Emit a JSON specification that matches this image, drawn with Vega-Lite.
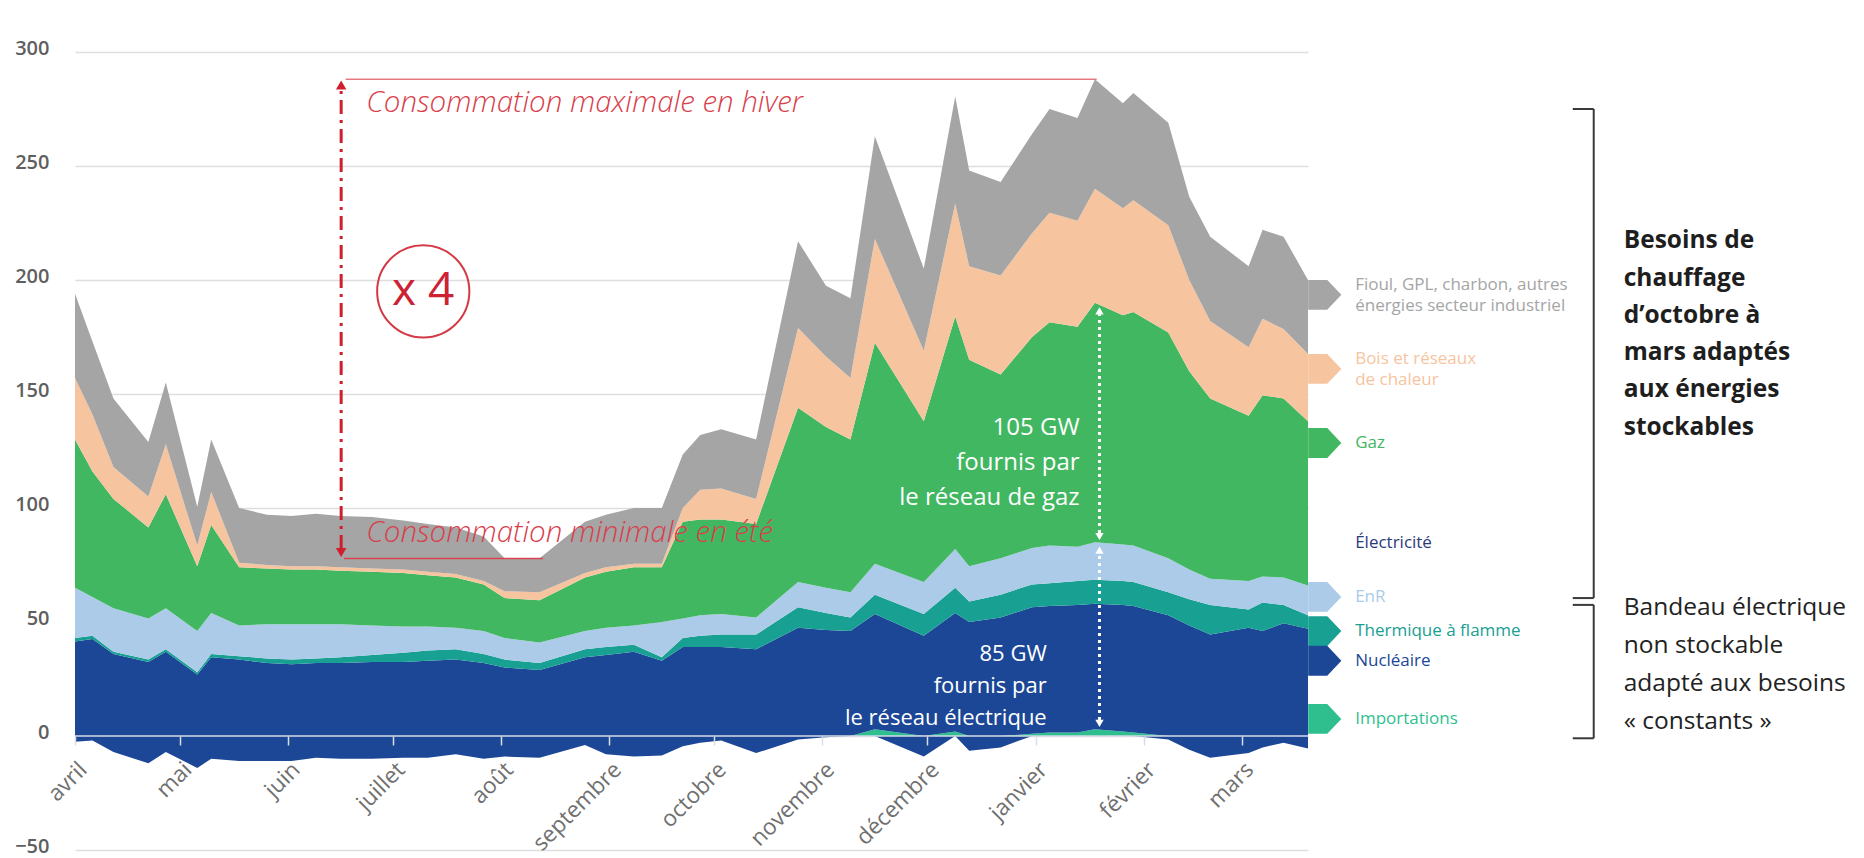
{
  "$schema": "https://vega.github.io/schema/vega-lite/v6.json",
  "width": 1233,
  "height": 798,
  "autosize": {"type": "none"},
  "padding": {"left": 75, "top": 52, "right": 556, "bottom": 8},
  "background": "#ffffff",
  "config": {"view": {"stroke": null}, "font": "Open Sans"},
  "datasets": {
    "semaines": [
      {"jour": 0, "Exportations": -2.5, "Importations": 0, "Nucleaire": 41.5, "Thermique": 1.5, "EnR": 22, "Gaz": 65, "Bois": 27, "Fioul": 37},
      {"jour": 5, "Exportations": -2, "Importations": 0, "Nucleaire": 42.5, "Thermique": 1.5, "EnR": 17, "Gaz": 55, "Bois": 25, "Fioul": 32},
      {"jour": 11, "Exportations": -7, "Importations": 0, "Nucleaire": 36, "Thermique": 1, "EnR": 19, "Gaz": 48, "Bois": 14, "Fioul": 30},
      {"jour": 21, "Exportations": -12, "Importations": 0, "Nucleaire": 32.5, "Thermique": 1, "EnR": 18, "Gaz": 40, "Bois": 13.5, "Fioul": 24},
      {"jour": 26, "Exportations": -7, "Importations": 0, "Nucleaire": 37, "Thermique": 1, "EnR": 18, "Gaz": 50, "Bois": 22, "Fioul": 27},
      {"jour": 35, "Exportations": -14, "Importations": 0, "Nucleaire": 27, "Thermique": 1, "EnR": 18, "Gaz": 28.5, "Bois": 9, "Fioul": 17},
      {"jour": 39, "Exportations": -10, "Importations": 0, "Nucleaire": 34.5, "Thermique": 1.5, "EnR": 18, "Gaz": 38.5, "Bois": 14.5, "Fioul": 23},
      {"jour": 47, "Exportations": -11, "Importations": 0, "Nucleaire": 33.5, "Thermique": 1.5, "EnR": 13.5, "Gaz": 25.5, "Bois": 2, "Fioul": 24},
      {"jour": 55, "Exportations": -11, "Importations": 0, "Nucleaire": 32, "Thermique": 2, "EnR": 15, "Gaz": 24.5, "Bois": 1.5, "Fioul": 22},
      {"jour": 62, "Exportations": -11, "Importations": 0, "Nucleaire": 31.5, "Thermique": 2, "EnR": 15.5, "Gaz": 24, "Bois": 1.5, "Fioul": 22},
      {"jour": 69, "Exportations": -9.5, "Importations": 0, "Nucleaire": 32, "Thermique": 2, "EnR": 15, "Gaz": 24, "Bois": 1.5, "Fioul": 23},
      {"jour": 76, "Exportations": -10, "Importations": 0, "Nucleaire": 32, "Thermique": 2.5, "EnR": 14.5, "Gaz": 23.5, "Bois": 1.5, "Fioul": 22.5},
      {"jour": 85, "Exportations": -10, "Importations": 0, "Nucleaire": 32.5, "Thermique": 3, "EnR": 13, "Gaz": 23.5, "Bois": 1.5, "Fioul": 22.5},
      {"jour": 94, "Exportations": -9.5, "Importations": 0, "Nucleaire": 32.5, "Thermique": 4, "EnR": 11.5, "Gaz": 23.5, "Bois": 1.5, "Fioul": 21.5},
      {"jour": 101, "Exportations": -9.5, "Importations": 0, "Nucleaire": 33, "Thermique": 4.5, "EnR": 10.5, "Gaz": 22.5, "Bois": 1.5, "Fioul": 21},
      {"jour": 109, "Exportations": -8, "Importations": 0, "Nucleaire": 33.5, "Thermique": 4.5, "EnR": 9.5, "Gaz": 22, "Bois": 1.5, "Fioul": 20.5},
      {"jour": 117, "Exportations": -10, "Importations": 0, "Nucleaire": 32, "Thermique": 4, "EnR": 10, "Gaz": 20.5, "Bois": 1.5, "Fioul": 19.5},
      {"jour": 123, "Exportations": -9, "Importations": 0, "Nucleaire": 30, "Thermique": 3.5, "EnR": 9.5, "Gaz": 17.5, "Bois": 3, "Fioul": 14.5},
      {"jour": 133, "Exportations": -9.5, "Importations": 0, "Nucleaire": 29, "Thermique": 3, "EnR": 9, "Gaz": 18.5, "Bois": 3.5, "Fioul": 15},
      {"jour": 146, "Exportations": -4, "Importations": 0, "Nucleaire": 34.5, "Thermique": 3.5, "EnR": 8, "Gaz": 23.5, "Bois": 2, "Fioul": 22.5},
      {"jour": 152, "Exportations": -8, "Importations": 0, "Nucleaire": 35.5, "Thermique": 3.5, "EnR": 8.5, "Gaz": 24.5, "Bois": 2, "Fioul": 23},
      {"jour": 160, "Exportations": -9, "Importations": 0, "Nucleaire": 37, "Thermique": 3, "EnR": 8.5, "Gaz": 25.5, "Bois": 1.5, "Fioul": 24.5},
      {"jour": 168, "Exportations": -8.5, "Importations": 0, "Nucleaire": 33, "Thermique": 1.5, "EnR": 15.5, "Gaz": 24, "Bois": 1.5, "Fioul": 24.5},
      {"jour": 174, "Exportations": -4.5, "Importations": 0, "Nucleaire": 39, "Thermique": 4, "EnR": 8.5, "Gaz": 42.5, "Bois": 6, "Fioul": 23.5},
      {"jour": 179, "Exportations": -3, "Importations": 0, "Nucleaire": 39, "Thermique": 5, "EnR": 9, "Gaz": 42, "Bois": 13, "Fioul": 24},
      {"jour": 185, "Exportations": -2, "Importations": 0, "Nucleaire": 39, "Thermique": 5.5, "EnR": 9, "Gaz": 41.5, "Bois": 13.5, "Fioul": 26},
      {"jour": 195, "Exportations": -7.5, "Importations": 0, "Nucleaire": 38, "Thermique": 6.5, "EnR": 7.5, "Gaz": 41, "Bois": 11, "Fioul": 26},
      {"jour": 207, "Exportations": -1.5, "Importations": 0, "Nucleaire": 47.5, "Thermique": 9, "EnR": 11, "Gaz": 76.5, "Bois": 35, "Fioul": 38},
      {"jour": 215, "Exportations": -0.5, "Importations": 0, "Nucleaire": 46.5, "Thermique": 7.5, "EnR": 11, "Gaz": 70.5, "Bois": 31, "Fioul": 31},
      {"jour": 222, "Exportations": 0, "Importations": 0, "Nucleaire": 46, "Thermique": 6, "EnR": 11, "Gaz": 67, "Bois": 27, "Fioul": 35},
      {"jour": 229, "Exportations": 0, "Importations": 3, "Nucleaire": 50.5, "Thermique": 8.5, "EnR": 13.5, "Gaz": 97, "Bois": 45.5, "Fioul": 45},
      {"jour": 243, "Exportations": -9, "Importations": 0, "Nucleaire": 44, "Thermique": 9.5, "EnR": 14, "Gaz": 70.5, "Bois": 31, "Fioul": 36},
      {"jour": 252, "Exportations": 0, "Importations": 2, "Nucleaire": 52, "Thermique": 11, "EnR": 17, "Gaz": 102, "Bois": 49.5, "Fioul": 47},
      {"jour": 256, "Exportations": -6.5, "Importations": 0, "Nucleaire": 50, "Thermique": 9, "EnR": 15.5, "Gaz": 90.5, "Bois": 41, "Fioul": 42},
      {"jour": 265, "Exportations": -5, "Importations": 0, "Nucleaire": 52, "Thermique": 10, "EnR": 16, "Gaz": 80.5, "Bois": 43.5, "Fioul": 41},
      {"jour": 274, "Exportations": 0, "Importations": 1, "Nucleaire": 55.5, "Thermique": 10, "EnR": 16, "Gaz": 92.5, "Bois": 45.5, "Fioul": 43.5},
      {"jour": 279, "Exportations": 0, "Importations": 1.5, "Nucleaire": 55.5, "Thermique": 10, "EnR": 16.5, "Gaz": 98, "Bois": 48, "Fioul": 45.5},
      {"jour": 287, "Exportations": 0, "Importations": 1.5, "Nucleaire": 56, "Thermique": 10.5, "EnR": 15, "Gaz": 96.5, "Bois": 46.5, "Fioul": 45},
      {"jour": 292, "Exportations": 0, "Importations": 3, "Nucleaire": 55, "Thermique": 10.5, "EnR": 16.5, "Gaz": 105, "Bois": 50, "Fioul": 48},
      {"jour": 300, "Exportations": 0, "Importations": 2, "Nucleaire": 55.5, "Thermique": 10.5, "EnR": 16, "Gaz": 100.5, "Bois": 47, "Fioul": 46},
      {"jour": 303, "Exportations": 0, "Importations": 1.5, "Nucleaire": 55.5, "Thermique": 10.5, "EnR": 16, "Gaz": 102.5, "Bois": 49, "Fioul": 47},
      {"jour": 313, "Exportations": -1.5, "Importations": 0, "Nucleaire": 53, "Thermique": 10, "EnR": 15, "Gaz": 99, "Bois": 47, "Fioul": 45},
      {"jour": 319, "Exportations": -6, "Importations": 0, "Nucleaire": 48.5, "Thermique": 11.5, "EnR": 13, "Gaz": 87, "Bois": 40, "Fioul": 36.5},
      {"jour": 325, "Exportations": -9.5, "Importations": 0, "Nucleaire": 44.5, "Thermique": 13, "EnR": 11.5, "Gaz": 79, "Bois": 34, "Fioul": 37},
      {"jour": 336, "Exportations": -7.5, "Importations": 0, "Nucleaire": 47.5, "Thermique": 8, "EnR": 12.5, "Gaz": 72.5, "Bois": 30, "Fioul": 35.5},
      {"jour": 340, "Exportations": -5, "Importations": 0, "Nucleaire": 46, "Thermique": 12.5, "EnR": 11.5, "Gaz": 79.5, "Bois": 33.5, "Fioul": 39},
      {"jour": 346, "Exportations": -3, "Importations": 0, "Nucleaire": 49.5, "Thermique": 8, "EnR": 12, "Gaz": 78.5, "Bois": 30.5, "Fioul": 40.5},
      {"jour": 353, "Exportations": -5.5, "Importations": 0, "Nucleaire": 47, "Thermique": 6, "EnR": 13, "Gaz": 72, "Bois": 29.5, "Fioul": 32.5}
    ],
    "rangs": [
      {"serie": "Exportations", "rang": 0},
      {"serie": "Importations", "rang": 1},
      {"serie": "Nucleaire", "rang": 2},
      {"serie": "Thermique", "rang": 3},
      {"serie": "EnR", "rang": 4},
      {"serie": "Gaz", "rang": 5},
      {"serie": "Bois", "rang": 6},
      {"serie": "Fioul", "rang": 7}
    ],
    "legende": [
      {"serie": "Fioul", "libelle": "Fioul, GPL, charbon, autres\nénergies secteur industriel", "lignes": 2, "niveau": 193.5},
      {"serie": "Bois", "libelle": "Bois et réseaux\nde chaleur", "lignes": 2, "niveau": 161},
      {"serie": "Gaz", "libelle": "Gaz", "lignes": 1, "niveau": 128.5},
      {"serie": "Electricite", "libelle": "Électricité", "lignes": 1, "niveau": 84.5},
      {"serie": "EnR", "libelle": "EnR", "lignes": 1, "niveau": 61},
      {"serie": "Thermique", "libelle": "Thermique à flamme", "lignes": 1, "niveau": 46},
      {"serie": "Nucleaire", "libelle": "Nucléaire", "lignes": 1, "niveau": 33},
      {"serie": "Importations", "libelle": "Importations", "lignes": 1, "niveau": 7.5}
    ]
  },
  "layer": [
    {
      "data": {"name": "semaines"},
      "transform": [
        {"fold": ["Exportations", "Importations", "Nucleaire", "Thermique", "EnR", "Gaz", "Bois", "Fioul"], "as": ["serie", "valeur"]},
        {"lookup": "serie", "from": {"data": {"name": "rangs"}, "key": "serie", "fields": ["rang"]}}
      ],
      "mark": {"type": "area", "interpolate": "linear"},
      "encoding": {
        "x": {
          "field": "jour", "type": "quantitative",
          "scale": {"domain": [0, 353], "nice": false, "zero": false},
          "axis": {
            "title": null, "orient": "bottom", "offset": -114,
            "values": [0, 30, 61, 91, 122, 153, 183, 214, 244, 275, 306, 334],
            "labelExpr": "['avril','mai','juin','juillet','août','septembre','octobre','novembre','décembre','janvier','février','mars'][indexof([0,30,61,91,122,153,183,214,244,275,306,334], datum.value)]",
            "domain": false, "grid": false, "ticks": true, "tickSize": 9, "tickColor": "#d8dde8", "tickWidth": 1.5,
            "labelAngle": -45, "labelAlign": "right", "labelBaseline": "top", "labelPadding": 13, "labelOffset": 0,
            "labelFontSize": 22.5, "labelColor": "#707070", "labelFont": "Open Sans",
            "labelOverlap": false, "labelBound": false, "labelFlush": false, "zindex": 1
          }
        },
        "y": {
          "field": "valeur", "type": "quantitative", "stack": "zero",
          "scale": {"domain": [-50, 300], "nice": false, "zero": false},
          "axis": {
            "title": null, "values": [-50, 0, 50, 100, 150, 200, 250, 300],
            "domain": false, "ticks": false, "tickSize": 0, "labelPadding": 26, "labelOffset": -4,
            "labelFontSize": 20, "labelColor": "#5f5f5f", "labelFontWeight": 600, "labelFont": "Open Sans",
            "grid": true, "gridColor": "#dedede", "gridWidth": 1.5
          }
        },
        "color": {
          "field": "serie", "type": "nominal", "legend": null,
          "scale": {
            "domain": ["Exportations", "Importations", "Nucleaire", "Thermique", "EnR", "Gaz", "Bois", "Fioul", "Electricite"],
            "range": ["#1c4796", "#2fbf8f", "#1c4796", "#18a092", "#abcbe8", "#41b761", "#f7c4a0", "#a5a5a5", "#2b3b7a"]
          }
        },
        "order": {"field": "rang", "type": "quantitative"}
      }
    },
    {
      "data": {"values": [{}]},
      "mark": {"type": "rule", "color": "#d5dbe6", "strokeWidth": 1.5},
      "encoding": {"y": {"datum": 0}}
    },
    {
      "data": {"values": [{}]},
      "mark": {"type": "rule", "color": "#e67a82", "strokeWidth": 1.5},
      "encoding": {"x": {"datum": 77.5}, "x2": {"datum": 292.5}, "y": {"datum": 288}}
    },
    {
      "data": {"values": [{}]},
      "mark": {"type": "rule", "color": "#d9434f", "strokeWidth": 1.5},
      "encoding": {"x": {"datum": 77}, "x2": {"datum": 134}, "y": {"datum": 77.8}}
    },
    {
      "data": {"values": [{}]},
      "mark": {"type": "rule", "color": "#cf1f2e", "strokeWidth": 3, "strokeDash": [14, 6, 3, 6]},
      "encoding": {"x": {"datum": 76.2}, "y": {"datum": 82}, "y2": {"datum": 284}}
    },
    {
      "data": {"values": [{}]},
      "mark": {"type": "point", "shape": "triangle-up", "filled": true, "size": 110, "color": "#cf1f2e", "opacity": 1},
      "encoding": {"x": {"datum": 76.2}, "y": {"datum": 285.5}}
    },
    {
      "data": {"values": [{}]},
      "mark": {"type": "point", "shape": "triangle-down", "filled": true, "size": 110, "color": "#cf1f2e", "opacity": 1},
      "encoding": {"x": {"datum": 76.2}, "y": {"datum": 80.5}}
    },
    {
      "data": {"values": [{}]},
      "mark": {"type": "text", "text": "Consommation maximale en hiver", "align": "left", "baseline": "middle", "fontSize": 29.5, "fontStyle": "italic", "fontWeight": 300, "color": "#d8404c", "font": "Open Sans"},
      "encoding": {"x": {"datum": 83.4}, "y": {"datum": 277.5}}
    },
    {
      "data": {"values": [{}]},
      "mark": {"type": "text", "text": "Consommation minimale en été", "align": "left", "baseline": "middle", "fontSize": 29.5, "fontStyle": "italic", "fontWeight": 300, "color": "#d8404c", "font": "Open Sans"},
      "encoding": {"x": {"datum": 83.4}, "y": {"datum": 89.2}}
    },
    {
      "data": {"values": [{}]},
      "mark": {"type": "point", "shape": "circle", "filled": false, "size": 8500, "stroke": "#d33a45", "strokeWidth": 2, "opacity": 1},
      "encoding": {"x": {"datum": 99.7}, "y": {"datum": 195}}
    },
    {
      "data": {"values": [{}]},
      "mark": {"type": "text", "text": "x 4", "align": "center", "baseline": "middle", "fontSize": 46, "color": "#cc2233", "font": "Open Sans"},
      "encoding": {"x": {"datum": 99.7}, "y": {"datum": 195}}
    },
    {
      "data": {"values": [{}]},
      "mark": {"type": "rule", "color": "#ffffff", "strokeWidth": 3, "strokeDash": [3, 4]},
      "encoding": {"x": {"datum": 293.3}, "y": {"datum": 89}, "y2": {"datum": 185}}
    },
    {
      "data": {"values": [{}]},
      "mark": {"type": "point", "shape": "triangle-up", "filled": true, "size": 70, "color": "#ffffff", "opacity": 1},
      "encoding": {"x": {"datum": 293.3}, "y": {"datum": 186.5}}
    },
    {
      "data": {"values": [{}]},
      "mark": {"type": "point", "shape": "triangle-down", "filled": true, "size": 70, "color": "#ffffff", "opacity": 1},
      "encoding": {"x": {"datum": 293.3}, "y": {"datum": 87.5}}
    },
    {
      "data": {"values": [{}]},
      "mark": {"type": "rule", "color": "#ffffff", "strokeWidth": 3, "strokeDash": [3, 4]},
      "encoding": {"x": {"datum": 293.3}, "y": {"datum": 7}, "y2": {"datum": 80}}
    },
    {
      "data": {"values": [{}]},
      "mark": {"type": "point", "shape": "triangle-up", "filled": true, "size": 70, "color": "#ffffff", "opacity": 1},
      "encoding": {"x": {"datum": 293.3}, "y": {"datum": 81.5}}
    },
    {
      "data": {"values": [{}]},
      "mark": {"type": "point", "shape": "triangle-down", "filled": true, "size": 70, "color": "#ffffff", "opacity": 1},
      "encoding": {"x": {"datum": 293.3}, "y": {"datum": 5.5}}
    },
    {
      "data": {"values": [{}]},
      "mark": {"type": "text", "text": ["105 GW", "fournis par", "le réseau de gaz"], "align": "right", "baseline": "middle", "fontSize": 24, "lineHeight": 35, "color": "#ffffff", "font": "Open Sans"},
      "encoding": {"x": {"datum": 287.6}, "y": {"datum": 135}}
    },
    {
      "data": {"values": [{}]},
      "mark": {"type": "text", "text": ["85 GW", "fournis par", "le réseau électrique"], "align": "right", "baseline": "middle", "fontSize": 22, "lineHeight": 32, "color": "#ffffff", "font": "Open Sans"},
      "encoding": {"x": {"datum": 278.2}, "y": {"datum": 36}}
    },
    {
      "data": {"name": "legende"},
      "transform": [{"filter": "datum.serie !== 'Electricite'"}],
      "mark": {"type": "point", "shape": "M-1,-0.9L0.15,-0.9L1,0L0.15,0.9L-1,0.9Z", "filled": true, "size": 1100, "opacity": 1, "strokeWidth": 0},
      "encoding": {"x": {"datum": 357.8}, "y": {"field": "niveau", "type": "quantitative"}, "color": {"field": "serie", "type": "nominal"}}
    },
    {
      "data": {"name": "legende"},
      "transform": [{"filter": "datum.lignes === 1"}],
      "mark": {"type": "text", "align": "left", "baseline": "middle", "fontSize": 17, "font": "Open Sans"},
      "encoding": {"x": {"datum": 366.5}, "y": {"field": "niveau", "type": "quantitative"}, "text": {"field": "libelle", "type": "nominal"}, "color": {"field": "serie", "type": "nominal"}}
    },
    {
      "data": {"name": "legende"},
      "transform": [{"filter": "datum.lignes === 2"}],
      "mark": {"type": "text", "align": "left", "baseline": "middle", "fontSize": 17, "lineHeight": 21, "lineBreak": "\n", "dy": -10, "font": "Open Sans"},
      "encoding": {"x": {"datum": 366.5}, "y": {"field": "niveau", "type": "quantitative"}, "text": {"field": "libelle", "type": "nominal"}, "color": {"field": "serie", "type": "nominal"}}
    },
    {
      "data": {"values": [{}]},
      "mark": {"type": "rule", "color": "#3a3a3a", "strokeWidth": 2},
      "encoding": {"x": {"datum": 434.8}, "y": {"datum": 275}, "y2": {"datum": 60.5}}
    },
    {
      "data": {"values": [{}]},
      "mark": {"type": "rule", "color": "#3a3a3a", "strokeWidth": 2},
      "encoding": {"x": {"datum": 428.8}, "x2": {"datum": 434.8}, "y": {"datum": 275}}
    },
    {
      "data": {"values": [{}]},
      "mark": {"type": "rule", "color": "#3a3a3a", "strokeWidth": 2},
      "encoding": {"x": {"datum": 428.8}, "x2": {"datum": 434.8}, "y": {"datum": 60.5}}
    },
    {
      "data": {"values": [{}]},
      "mark": {"type": "rule", "color": "#3a3a3a", "strokeWidth": 2},
      "encoding": {"x": {"datum": 428.8}, "x2": {"datum": 434.8}, "y": {"datum": 57.5}}
    },
    {
      "data": {"values": [{}]},
      "mark": {"type": "rule", "color": "#3a3a3a", "strokeWidth": 2},
      "encoding": {"x": {"datum": 434.8}, "y": {"datum": 57.5}, "y2": {"datum": -1}}
    },
    {
      "data": {"values": [{}]},
      "mark": {"type": "rule", "color": "#3a3a3a", "strokeWidth": 2},
      "encoding": {"x": {"datum": 428.8}, "x2": {"datum": 434.8}, "y": {"datum": -1}}
    },
    {
      "data": {"values": [{}]},
      "mark": {"type": "text", "text": ["Besoins de", "chauffage", "d’octobre à", "mars adaptés", "aux énergies", "stockables"], "align": "left", "baseline": "middle", "fontSize": 24.5, "fontWeight": "bold", "lineHeight": 37.3, "color": "#1e1e1e", "font": "Open Sans"},
      "encoding": {"x": {"datum": 443.4}, "y": {"datum": 217}}
    },
    {
      "data": {"values": [{}]},
      "mark": {"type": "text", "text": ["Bandeau électrique", "non stockable", "adapté aux besoins", "« constants »"], "align": "left", "baseline": "middle", "fontSize": 24.5, "lineHeight": 38, "color": "#222222", "font": "Open Sans"},
      "encoding": {"x": {"datum": 443.4}, "y": {"datum": 56.3}}
    }
  ]
}
